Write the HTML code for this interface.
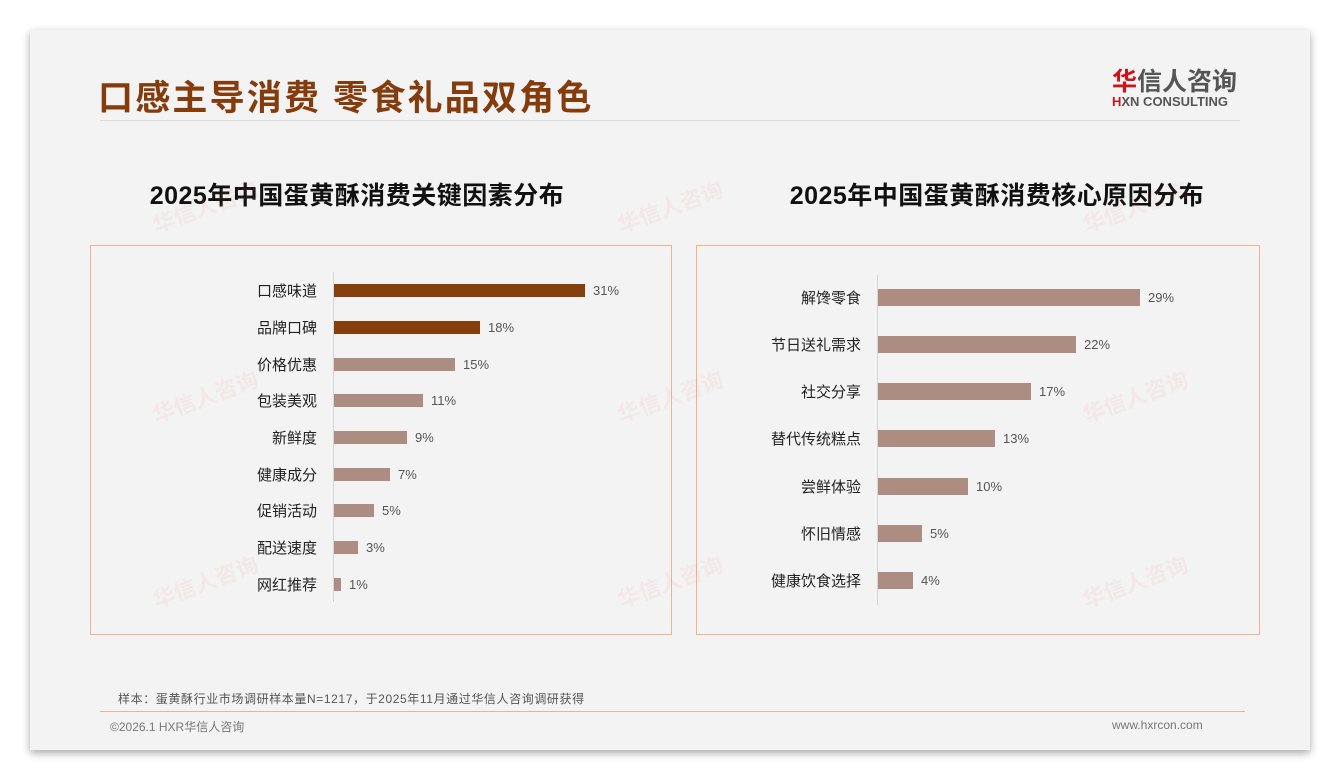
<!DOCTYPE html><html><head><meta charset="utf-8"><style>
body{margin:0;width:1340px;height:780px;background:#fff;position:relative;overflow:hidden;font-family:"Liberation Sans","Noto Sans CJK SC",sans-serif}
.a{position:absolute;white-space:nowrap}
.slide{left:30px;top:30px;width:1280px;height:720px;background:#f3f3f3;box-shadow:0 3px 8px rgba(0,0,0,.35)}
.lab{font-size:15px;color:#222;text-align:right;width:200px}
.val{font-size:13px;color:#555}
.bar{height:13px}
.wm{color:rgba(220,120,110,.09);font-size:22px;font-weight:bold;transform:rotate(-20deg)}
</style></head><body>
<div class="a slide"></div>
<div class="a" style="left:98px;top:70px;font-size:35px;font-weight:bold;color:#843c0c;letter-spacing:2.2px">口感主导消费 零食礼品双角色</div>
<div class="a" style="left:100px;top:120px;width:1140px;height:1px;background:#dcdcdc"></div>
<div class="a" style="left:1112px;top:62px;font-size:25px;font-weight:bold;color:#555"><span style="color:#c9151e">华</span>信人咨询</div>
<div class="a" style="left:1112px;top:94px;font-size:13px;font-weight:bold;color:#555"><span style="color:#c9151e">H</span>XN CONSULTING</div>
<div class="a" style="left:140px;top:176px;width:434px;text-align:center;font-size:25px;font-weight:bold;color:#111;letter-spacing:0.5px">2025年中国蛋黄酥消费关键因素分布</div>
<div class="a" style="left:780px;top:176px;width:434px;text-align:center;font-size:25px;font-weight:bold;color:#111;letter-spacing:0.5px">2025年中国蛋黄酥消费核心原因分布</div>
<div class="a" style="left:90px;top:245px;width:580px;height:388px;border:1px solid #efb48a"></div>
<div class="a" style="left:696px;top:245px;width:562px;height:388px;border:1px solid #efb48a"></div>
<div class="a" style="left:333px;top:272px;width:1px;height:330px;background:#d6d6d6"></div>
<div class="a" style="left:877px;top:275px;width:1px;height:330px;background:#d6d6d6"></div>
<!-- left -->
<div class="a lab" style="left:117px;top:280px">口感味道</div><div class="a bar" style="left:334px;top:284px;width:251px;background:#843f0c"></div><div class="a val" style="left:593px;top:283px">31%</div>
<div class="a lab" style="left:117px;top:317px">品牌口碑</div><div class="a bar" style="left:334px;top:321px;width:146px;background:#843f0c"></div><div class="a val" style="left:488px;top:320px">18%</div>
<div class="a lab" style="left:117px;top:354px">价格优惠</div><div class="a bar" style="left:334px;top:358px;width:121px;background:#ad8c82"></div><div class="a val" style="left:463px;top:357px">15%</div>
<div class="a lab" style="left:117px;top:390px">包装美观</div><div class="a bar" style="left:334px;top:394px;width:89px;background:#ad8c82"></div><div class="a val" style="left:431px;top:393px">11%</div>
<div class="a lab" style="left:117px;top:427px">新鲜度</div><div class="a bar" style="left:334px;top:431px;width:73px;background:#ad8c82"></div><div class="a val" style="left:415px;top:430px">9%</div>
<div class="a lab" style="left:117px;top:464px">健康成分</div><div class="a bar" style="left:334px;top:468px;width:56px;background:#ad8c82"></div><div class="a val" style="left:398px;top:467px">7%</div>
<div class="a lab" style="left:117px;top:500px">促销活动</div><div class="a bar" style="left:334px;top:504px;width:40px;background:#ad8c82"></div><div class="a val" style="left:382px;top:503px">5%</div>
<div class="a lab" style="left:117px;top:537px">配送速度</div><div class="a bar" style="left:334px;top:541px;width:24px;background:#ad8c82"></div><div class="a val" style="left:366px;top:540px">3%</div>
<div class="a lab" style="left:117px;top:574px">网红推荐</div><div class="a bar" style="left:334px;top:578px;width:7px;background:#ad8c82"></div><div class="a val" style="left:349px;top:577px">1%</div>
<!-- right -->
<div class="a lab" style="left:661px;top:287px">解馋零食</div><div class="a bar" style="left:878px;top:289px;width:262px;height:17px;background:#ad8c82"></div><div class="a val" style="left:1148px;top:290px">29%</div>
<div class="a lab" style="left:661px;top:334px">节日送礼需求</div><div class="a bar" style="left:878px;top:336px;width:198px;height:17px;background:#ad8c82"></div><div class="a val" style="left:1084px;top:337px">22%</div>
<div class="a lab" style="left:661px;top:381px">社交分享</div><div class="a bar" style="left:878px;top:383px;width:153px;height:17px;background:#ad8c82"></div><div class="a val" style="left:1039px;top:384px">17%</div>
<div class="a lab" style="left:661px;top:428px">替代传统糕点</div><div class="a bar" style="left:878px;top:430px;width:117px;height:17px;background:#ad8c82"></div><div class="a val" style="left:1003px;top:431px">13%</div>
<div class="a lab" style="left:661px;top:476px">尝鲜体验</div><div class="a bar" style="left:878px;top:478px;width:90px;height:17px;background:#ad8c82"></div><div class="a val" style="left:976px;top:479px">10%</div>
<div class="a lab" style="left:661px;top:523px">怀旧情感</div><div class="a bar" style="left:878px;top:525px;width:44px;height:17px;background:#ad8c82"></div><div class="a val" style="left:930px;top:526px">5%</div>
<div class="a lab" style="left:661px;top:570px">健康饮食选择</div><div class="a bar" style="left:878px;top:572px;width:35px;height:17px;background:#ad8c82"></div><div class="a val" style="left:921px;top:573px">4%</div>
<!-- watermarks -->
<div class="a wm" style="left:150px;top:190px">华信人咨询</div>
<div class="a wm" style="left:615px;top:190px">华信人咨询</div>
<div class="a wm" style="left:1080px;top:190px">华信人咨询</div>
<div class="a wm" style="left:150px;top:380px">华信人咨询</div>
<div class="a wm" style="left:615px;top:380px">华信人咨询</div>
<div class="a wm" style="left:1080px;top:380px">华信人咨询</div>
<div class="a wm" style="left:150px;top:565px">华信人咨询</div>
<div class="a wm" style="left:615px;top:565px">华信人咨询</div>
<div class="a wm" style="left:1080px;top:565px">华信人咨询</div>
<div class="a" style="left:118px;top:690px;font-size:12px;color:#555;letter-spacing:0.6px">样本：蛋黄酥行业市场调研样本量N=1217，于2025年11月通过华信人咨询调研获得</div>
<div class="a" style="left:100px;top:711px;width:1145px;height:1px;background:#d9b89e"></div>
<div class="a" style="left:110px;top:718px;font-size:12px;color:#777">©2026.1 HXR华信人咨询</div>
<div class="a" style="left:1112px;top:718px;font-size:12px;color:#777">www.hxrcon.com</div>
</body></html>
